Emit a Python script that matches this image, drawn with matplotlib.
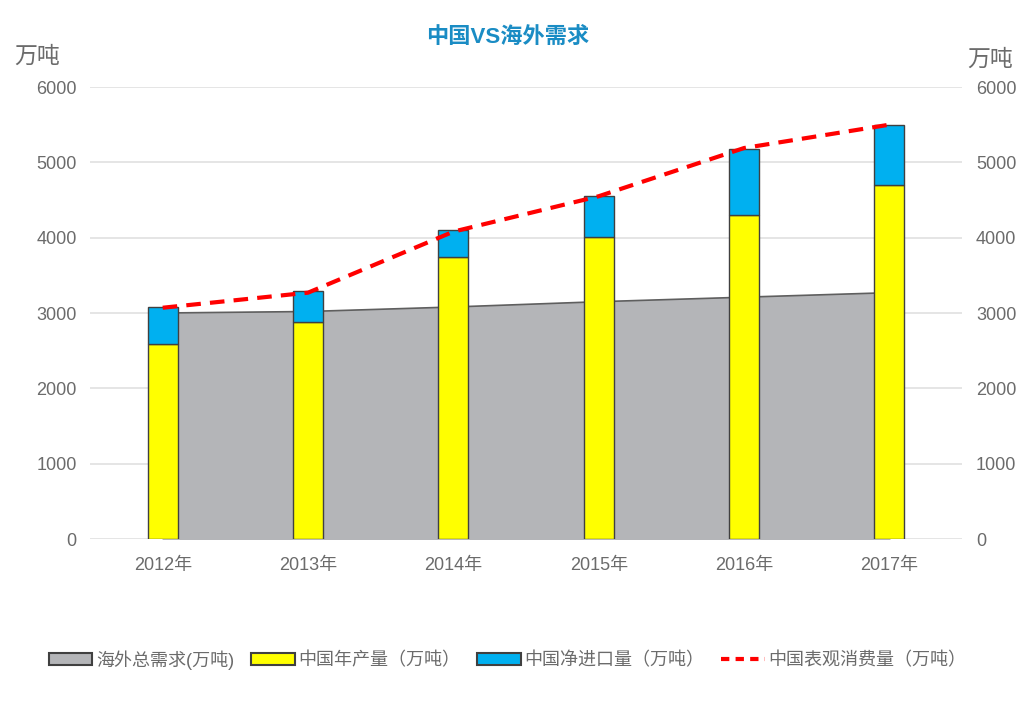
import matplotlib.pyplot as plt
from matplotlib.patches import Patch
from matplotlib.lines import Line2D
import numpy as np

plt.rcParams['font.family'] = ['Liberation Sans', 'Noto Sans CJK SC', 'DejaVu Sans']

years = ['2012年', '2013年', '2014年', '2015年', '2016年', '2017年']
overseas = [3000, 3020, 3080, 3150, 3210, 3270]      # 海外总需求
production = [2590, 2880, 3740, 4010, 4300, 4700]    # 中国年产量
imports = [490, 410, 360, 540, 880, 800]             # 中国净进口量
consumption = [3070, 3270, 4080, 4550, 5190, 5500]   # 中国表观消费量

x = np.arange(len(years))
grey_txt = '#6b6b6b'

fig = plt.figure(figsize=(10.36, 7.18), dpi=100)
ax = fig.add_axes([0.0869, 0.2493, 0.8417, 0.6295])

ax.fill_between(x, overseas, color='#b4b5b8', zorder=2)
ax.plot(x, overseas, color='#5f5f5f', lw=1.2, zorder=2)
ax.bar(x, production, width=0.206, color='#ffff00', edgecolor='#404040', lw=1, zorder=3)
ax.bar(x, imports, width=0.206, bottom=production, color='#00b0f0', edgecolor='#404040', lw=1, zorder=3)
ax.plot(x, consumption, color='#ff0000', lw=3, ls=(0, (3.5, 2.2)), zorder=4)

ax.set_xlim(-0.5, 5.5)
ax.set_ylim(0, 6000)
ax.set_yticks(range(0, 6001, 1000))
ax.set_xticks(x)
ax.set_xticklabels(years)
ax.grid(axis='y', color='#e0e0e0', lw=1.2, zorder=0)
ax.set_axisbelow(True)
for s in ax.spines.values():
    s.set_visible(False)
ax.tick_params(length=0, colors=grey_txt, labelsize=13)
ax.tick_params(axis='x', pad=13)
ax.tick_params(axis='y', pad=9.5)

ax2 = ax.twinx()
ax2.set_ylim(0, 6000)
ax2.set_yticks(range(0, 6001, 1000))
for s in ax2.spines.values():
    s.set_visible(False)
ax2.tick_params(length=0, colors=grey_txt, labelsize=13, pad=10)

fig.text(0.036, 0.921, '万吨', fontsize=16.5, color=grey_txt, ha='center', va='center')
fig.text(0.956, 0.917, '万吨', fontsize=16.5, color=grey_txt, ha='center', va='center')
fig.text(0.49, 0.948, '中国VS海外需求', fontsize=16, fontweight='bold', color='#1a8cc4',
         ha='center', va='center')

handles = [
    Patch(facecolor='#b4b5b8', edgecolor='#404040', lw=1.5),
    Patch(facecolor='#ffff00', edgecolor='#404040', lw=1.5),
    Patch(facecolor='#00b0f0', edgecolor='#404040', lw=1.5),
    Line2D([0], [0], color='#ff0000', lw=3, ls=(0, (2, 1.5))),
]
labels = ['海外总需求(万吨)', '中国年产量（万吨）', '中国净进口量（万吨）', '中国表观消费量（万吨）']
fig.legend(handles, labels, loc='center', bbox_to_anchor=(0.49, 0.081), ncol=4, frameon=False,
           fontsize=13, labelcolor=grey_txt, handlelength=2.4, handleheight=0.65,
           handletextpad=0.2, columnspacing=0.95)

fig.savefig('out.png', dpi=100)
